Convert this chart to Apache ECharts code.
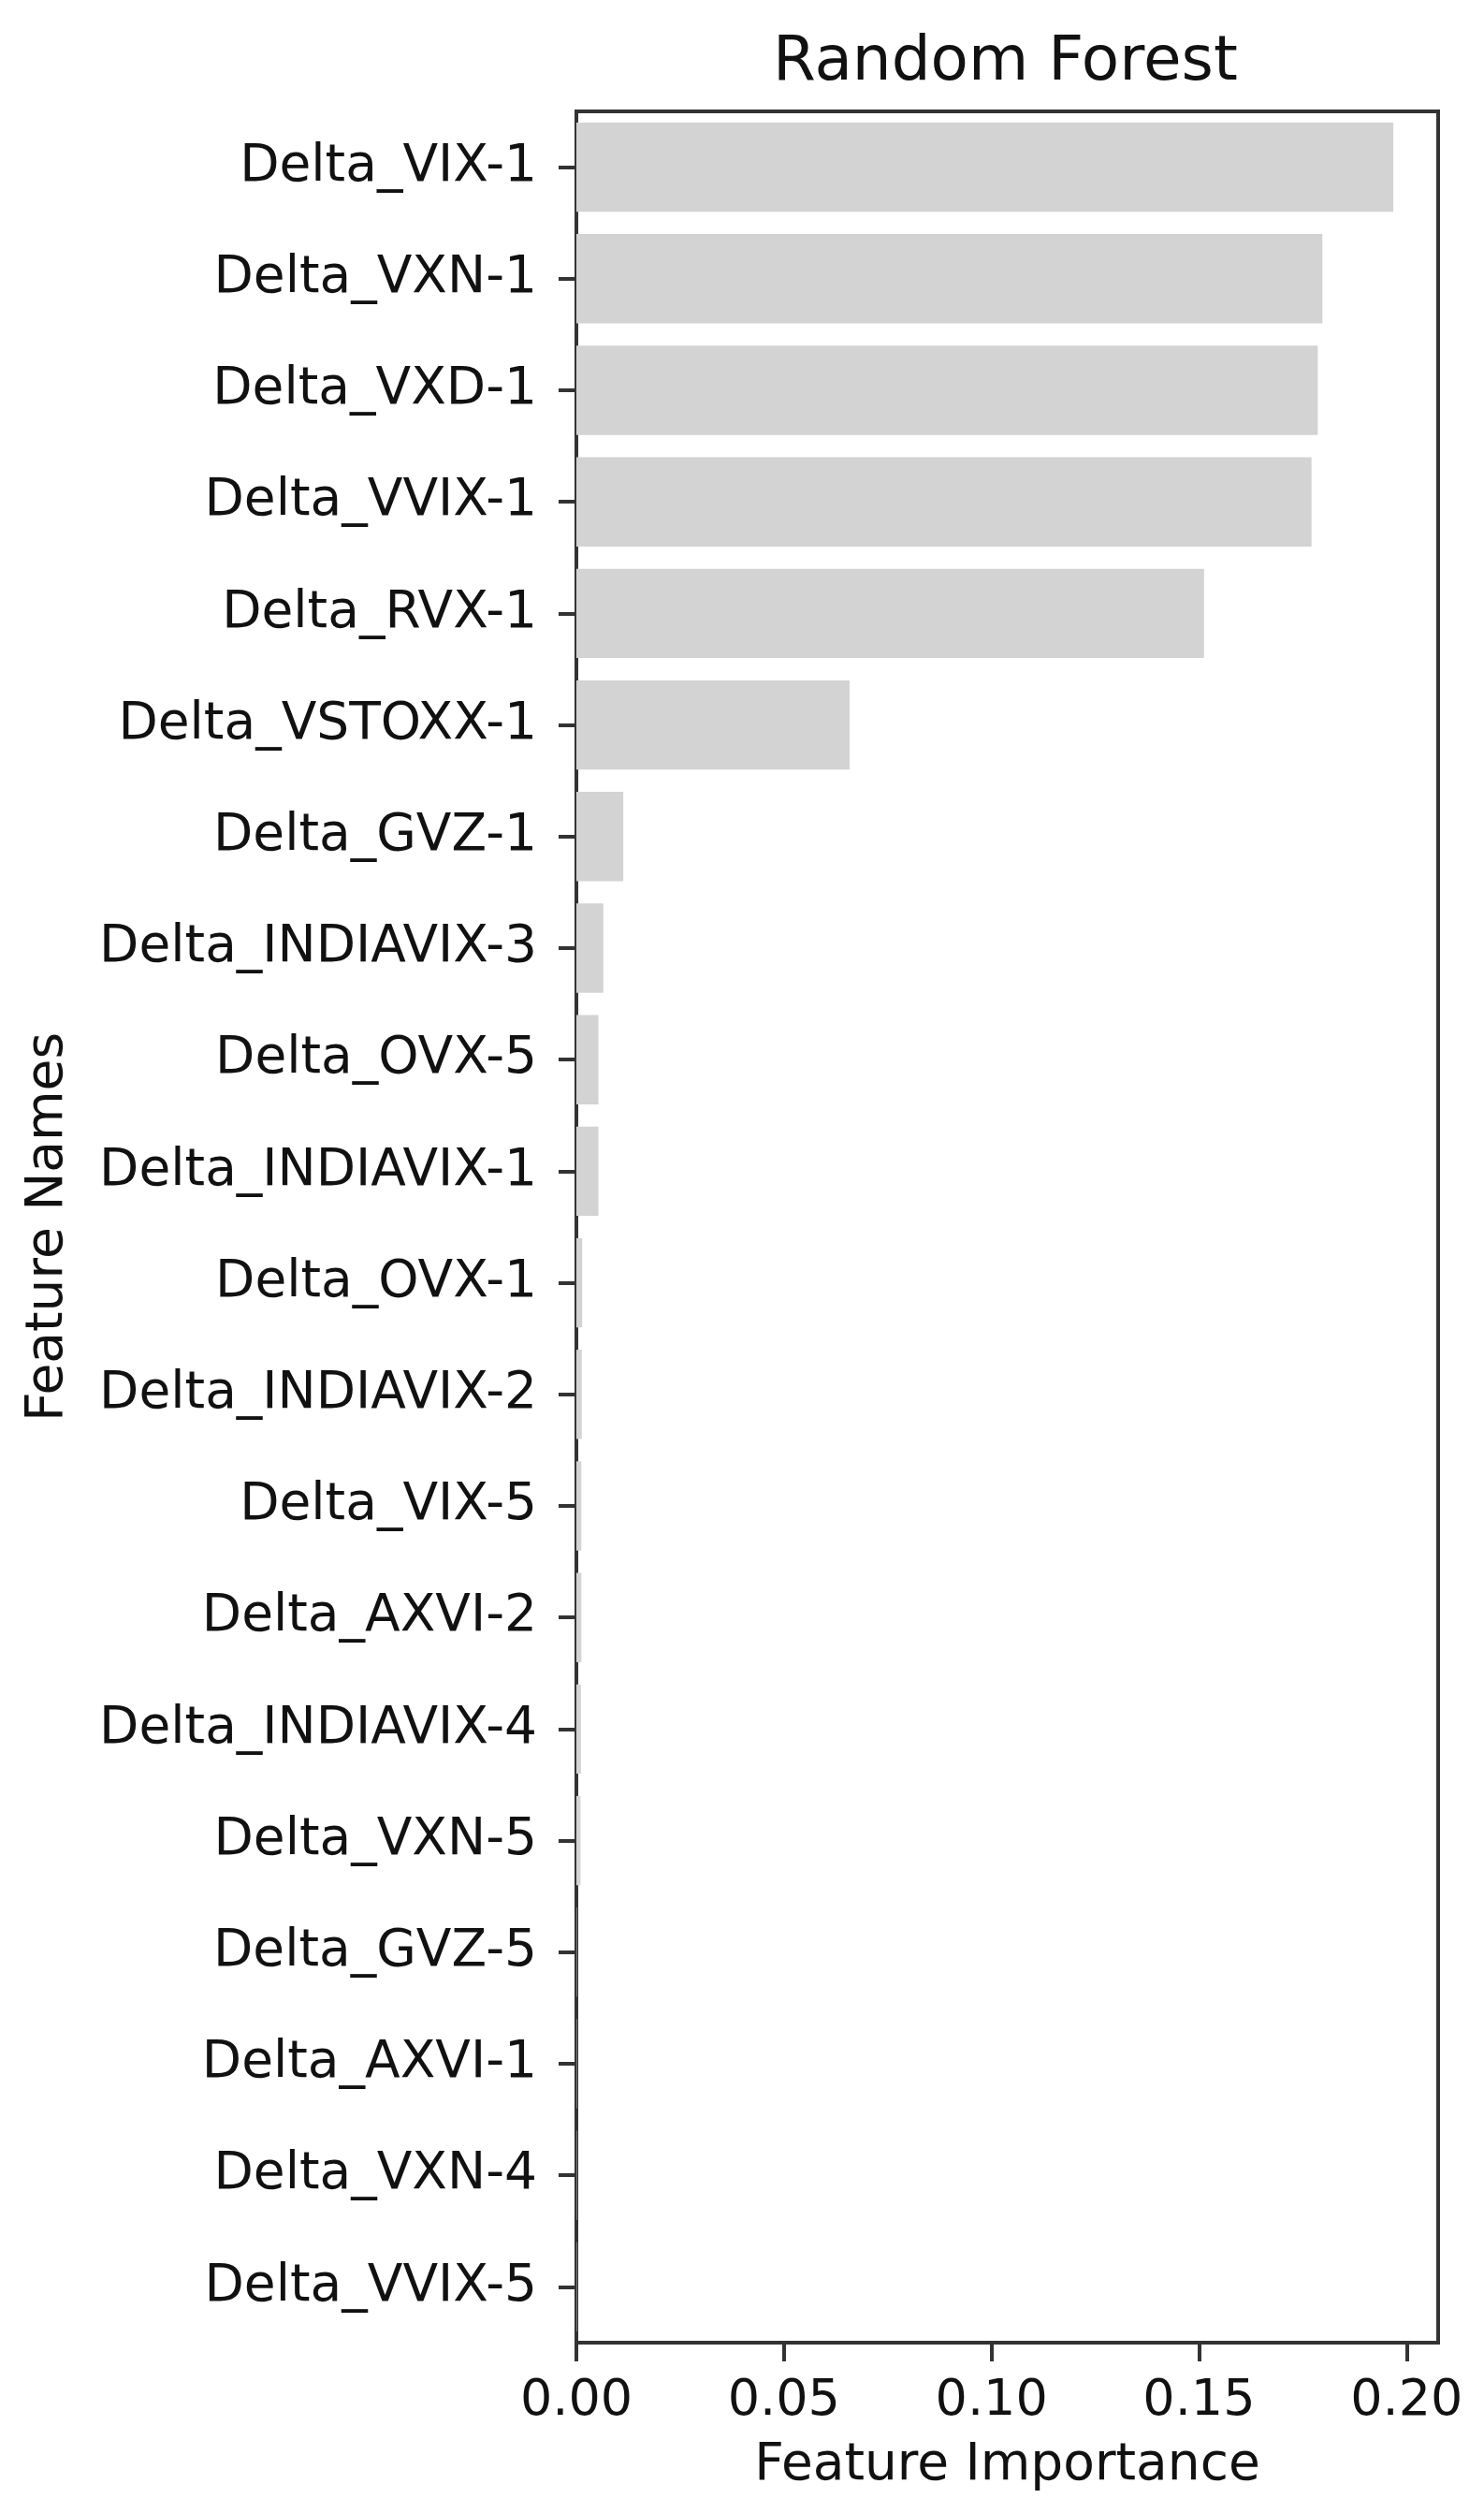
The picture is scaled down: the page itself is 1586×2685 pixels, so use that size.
<!DOCTYPE html>
<html>
<head>
<meta charset="utf-8">
<title>Random Forest</title>
<script src="https://cdn.jsdelivr.net/npm/echarts@6/dist/echarts.min.js"></script>
<style>
  html, body { margin: 0; padding: 0; background: #fff; }
  #chart { width: 1586px; height: 2685px; }
</style>
</head>
<body>
<div id="chart"></div>
<script>
// feature names, top to bottom
const features = [
  'Delta_VIX-1', 'Delta_VXN-1', 'Delta_VXD-1', 'Delta_VVIX-1', 'Delta_RVX-1',
  'Delta_VSTOXX-1', 'Delta_GVZ-1', 'Delta_INDIAVIX-3', 'Delta_OVX-5', 'Delta_INDIAVIX-1',
  'Delta_OVX-1', 'Delta_INDIAVIX-2', 'Delta_VIX-5', 'Delta_AXVI-2', 'Delta_INDIAVIX-4',
  'Delta_VXN-5', 'Delta_GVZ-5', 'Delta_AXVI-1', 'Delta_VXN-4', 'Delta_VVIX-5'
]
// feature importance
const importance = [
  0.1968, 0.1797, 0.1786, 0.1771, 0.1512,
  0.0658, 0.0113, 0.0065, 0.0053, 0.0053,
  0.0014, 0.0013, 0.0012, 0.0012, 0.0011,
  0.0010, 0.0001, 0.0001, 0.0001, 0.0001
]
const xTicks = [0, 0.05, 0.1, 0.15, 0.2]

const font = 'DejaVu Sans'
const ink = '#111'
const spine = '#333'

const chart = echarts.init(document.getElementById('chart'))
chart.setOption({
  animation: false,
  backgroundColor: '#fff',
  title: {
    text: 'Random Forest',
    left: 821,
    top: 30,
    textStyle: { fontFamily: font, fontSize: 66, fontWeight: 'normal', color: ink }
  },
  grid: {
    left: 616,
    right: 49,
    top: 119,
    bottom: 182,
    show: true,
    borderColor: spine,
    borderWidth: 4,
    backgroundColor: 'transparent'
  },
  xAxis: {
    type: 'value',
    min: 0,
    max: 0.2076,
    interval: 0.05,
    name: 'Feature Importance',
    nameLocation: 'middle',
    nameGap: 104,
    nameTextStyle: { fontFamily: font, fontSize: 55, color: ink },
    splitLine: { show: false },
    axisLine: { show: true, lineStyle: { color: spine, width: 4 } },
    axisTick: { show: true, length: 20, customValues: xTicks, lineStyle: { color: spine, width: 4 } },
    axisLabel: {
      customValues: xTicks,
      margin: 36,
      fontFamily: font,
      fontSize: 54,
      color: ink,
      formatter: v => v.toFixed(2)
    }
  },
  yAxis: {
    type: 'category',
    data: features,
    inverse: true,
    name: 'Feature Names',
    nameLocation: 'middle',
    nameGap: 537,
    nameRotate: 90,
    nameTextStyle: { fontFamily: font, fontSize: 55, color: ink },
    axisLine: { show: true, lineStyle: { color: spine, width: 4 } },
    axisTick: { show: true, length: 19, alignWithLabel: true, lineStyle: { color: spine, width: 4 } },
    axisLabel: { margin: 42, fontFamily: font, fontSize: 55, color: ink }
  },
  series: [{
    type: 'bar',
    data: importance,
    barCategoryGap: '20%',
    itemStyle: { color: '#d3d3d3' },
    z: 1
  }]
})
</script>
</body>
</html>
